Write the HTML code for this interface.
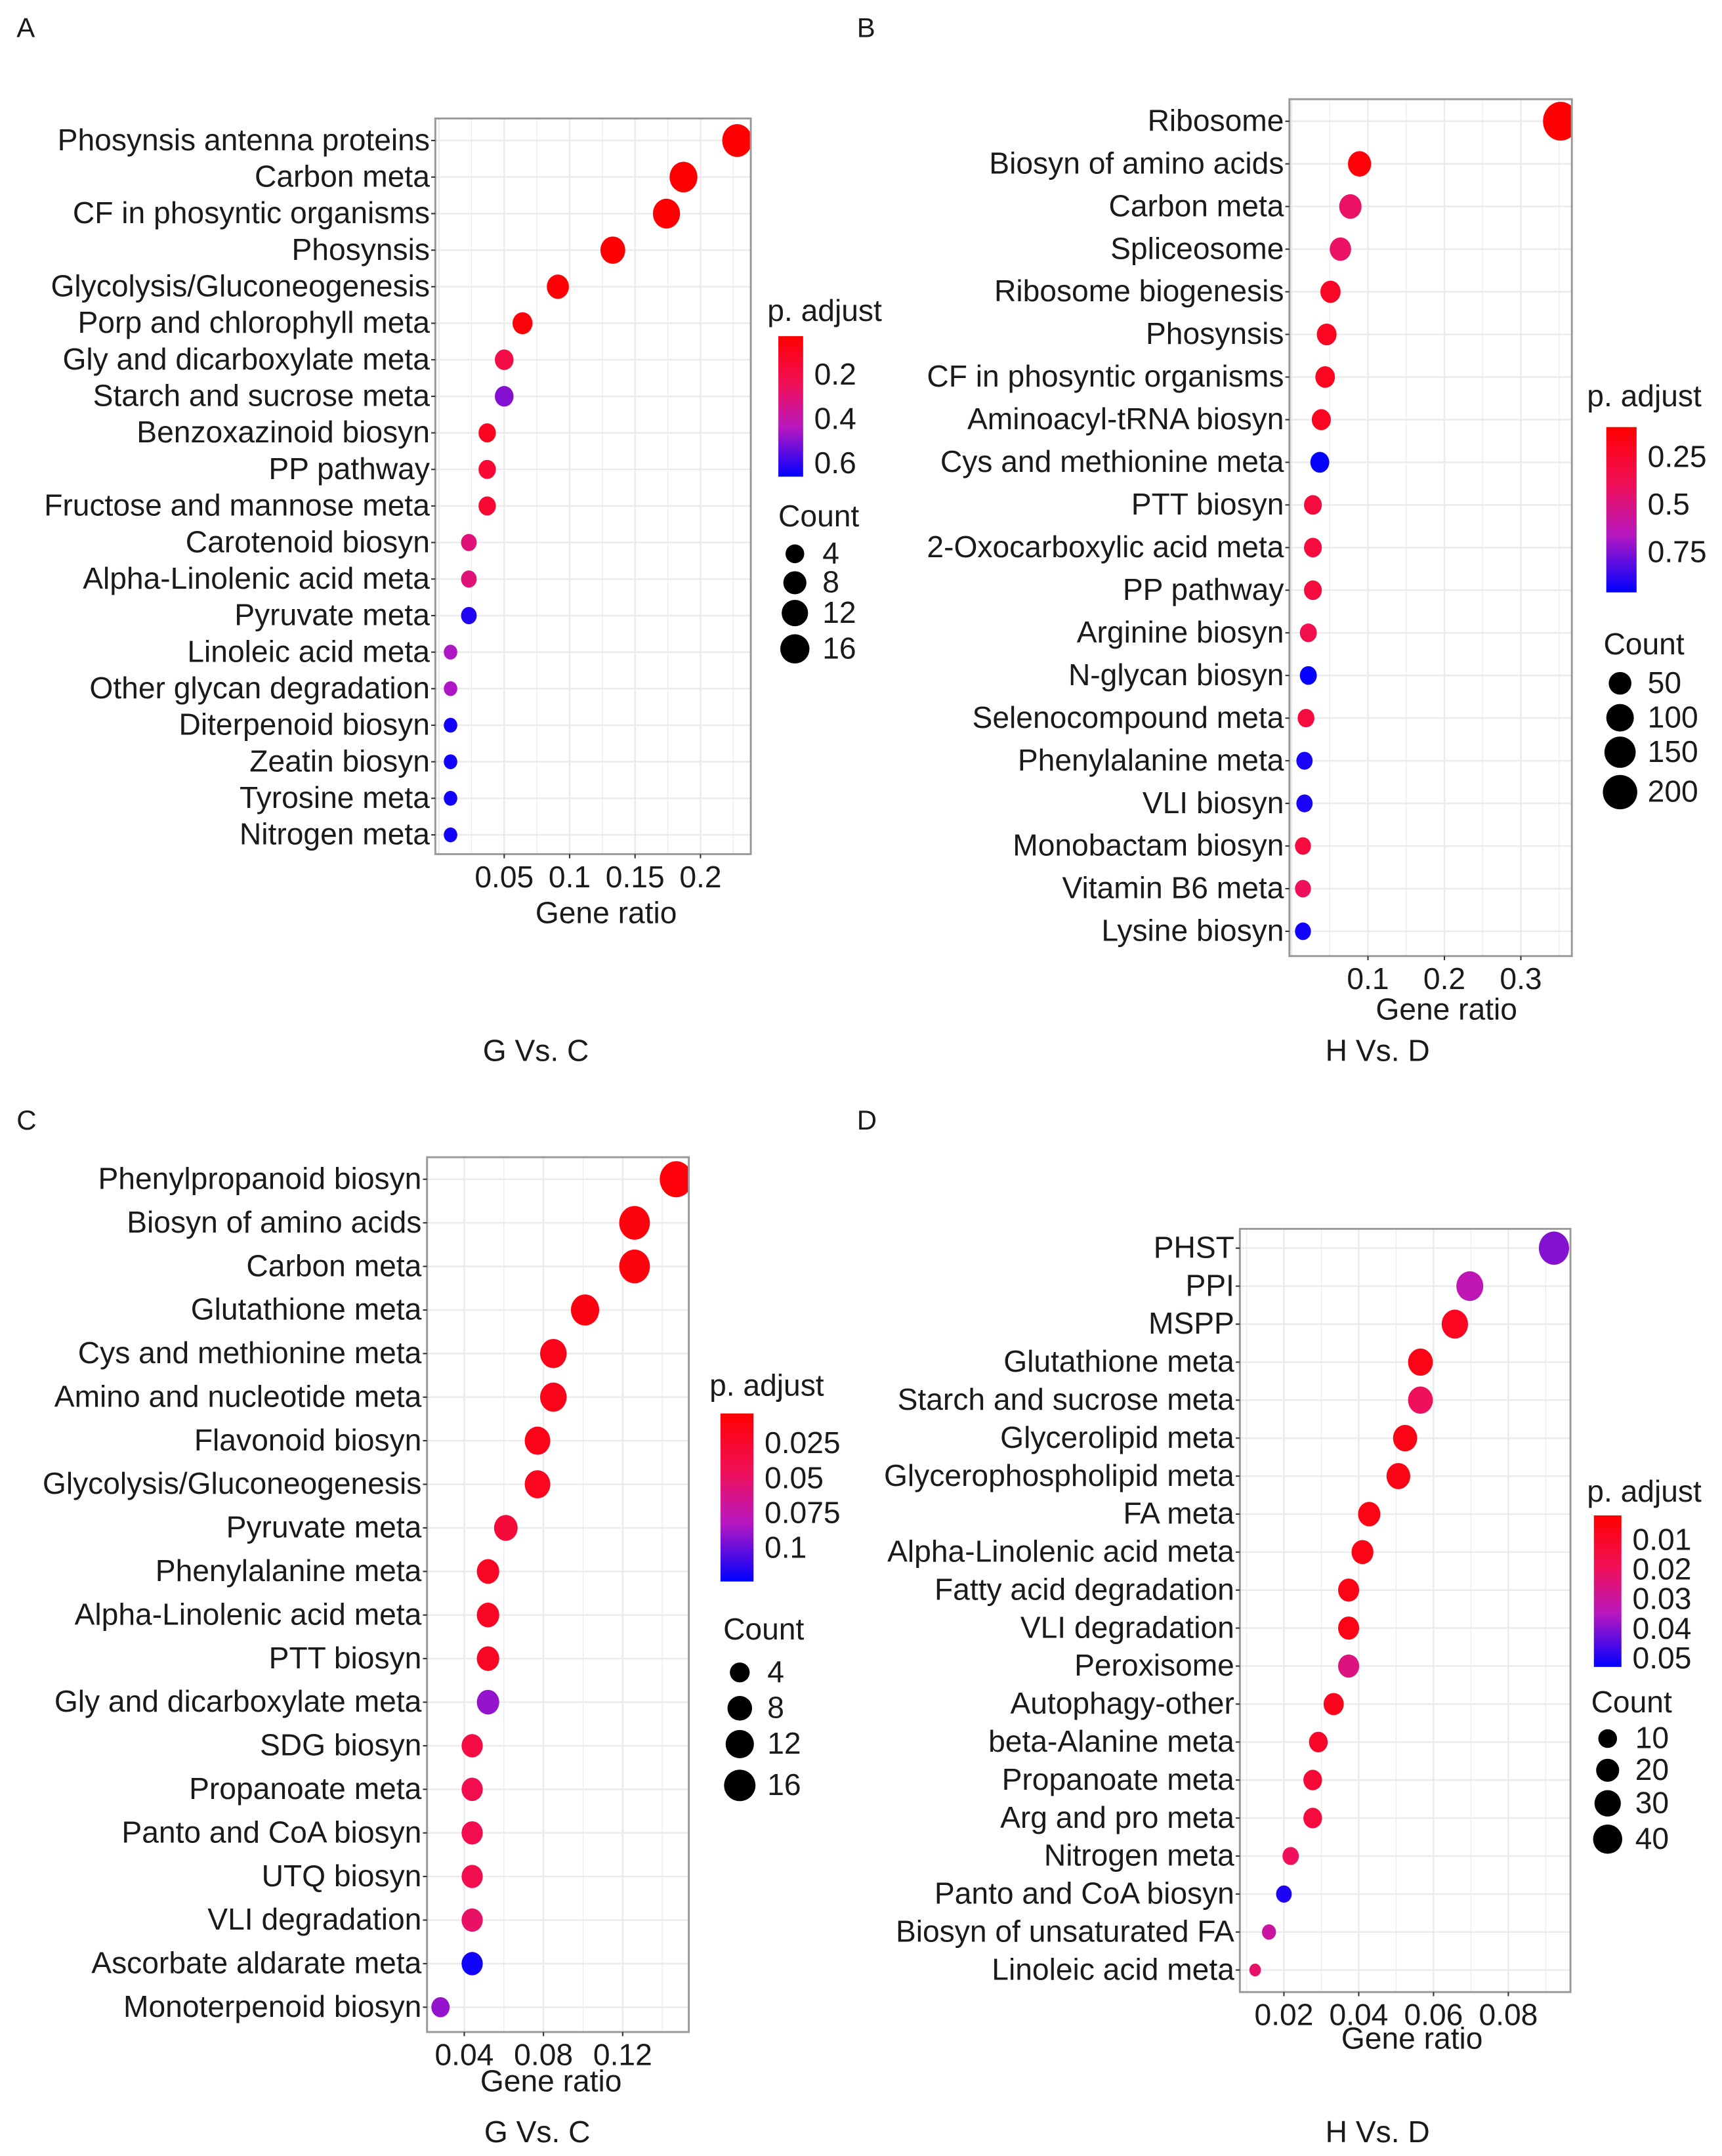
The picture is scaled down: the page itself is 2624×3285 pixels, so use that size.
<!DOCTYPE html>
<html><head><meta charset="utf-8"><style>
html,body{margin:0;padding:0;background:#fff}
svg{display:block}
text{font-family:"Liberation Sans",Arial,sans-serif}
</style></head><body>
<svg id="fig" width="2624" height="3285" viewBox="0 0 1250 1565" preserveAspectRatio="none" xmlns="http://www.w3.org/2000/svg">
<defs>
<linearGradient id="gradP" x1="0" y1="0" x2="0" y2="1">
<stop offset="0" stop-color="#ff0000"/><stop offset="0.35" stop-color="#f0105a"/><stop offset="0.65" stop-color="#b818c0"/><stop offset="1" stop-color="#0000ff"/>
</linearGradient>
</defs>
</svg>
<script>
// Panel A data
const catsA=["Phosynsis antenna proteins","Carbon meta","CF in phosyntic organisms","Phosynsis","Glycolysis/Gluconeogenesis","Porp and chlorophyll meta","Gly and dicarboxylate meta","Starch and sucrose meta","Benzoxazinoid biosyn","PP pathway","Fructose and mannose meta","Carotenoid biosyn","Alpha-Linolenic acid meta","Pyruvate meta","Linoleic acid meta","Other glycan degradation","Diterpenoid biosyn","Zeatin biosyn","Tyrosine meta","Nitrogen meta"];
const ratioA=[0.228,0.187,0.174,0.133,0.091,0.064,0.05,0.05,0.037,0.037,0.037,0.023,0.023,0.023,0.009,0.009,0.009,0.009,0.009,0.009];
const countA=[17,14,13,10,7,5,4,4,3,3,3,2,2,2,1,1,1,1,1,1];
const padjA=[0.03,0.03,0.03,0.03,0.04,0.05,0.2,0.5,0.1,0.15,0.15,0.3,0.3,0.62,0.45,0.45,0.64,0.64,0.64,0.64];
const ticksA=[0.05,0.1,0.15,0.2];
// Panel B data
const catsB=["Ribosome","Biosyn of amino acids","Carbon meta","Spliceosome","Ribosome biogenesis","Phosynsis","CF in phosyntic organisms","Aminoacyl-tRNA biosyn","Cys and methionine meta","PTT biosyn","2-Oxocarboxylic acid meta","PP pathway","Arginine biosyn","N-glycan biosyn","Selenocompound meta","Phenylalanine meta","VLI biosyn","Monobactam biosyn","Vitamin B6 meta","Lysine biosyn"];
const ratioB=[0.352,0.089,0.077,0.064,0.051,0.046,0.044,0.039,0.037,0.028,0.028,0.028,0.022,0.022,0.019,0.017,0.017,0.015,0.015,0.015];
const countB=[215,54,47,39,31,28,27,24,23,17,17,17,13,13,12,10,10,9,9,9];
const padjB=[0.1,0.12,0.42,0.42,0.22,0.2,0.2,0.2,0.95,0.3,0.3,0.3,0.35,0.95,0.3,0.92,0.92,0.3,0.4,0.93];
const ticksB=[0.1,0.2,0.3];
// Panel C data
const catsC=["Phenylpropanoid biosyn","Biosyn of amino acids","Carbon meta","Glutathione meta","Cys and methionine meta","Amino and nucleotide meta","Flavonoid biosyn","Glycolysis/Gluconeogenesis","Pyruvate meta","Phenylalanine meta","Alpha-Linolenic acid meta","PTT biosyn","Gly and dicarboxylate meta","SDG biosyn","Propanoate meta","Panto and CoA biosyn","UTQ biosyn","VLI degradation","Ascorbate aldarate meta","Monoterpenoid biosyn"];
const ratioC=[0.147,0.126,0.126,0.101,0.085,0.085,0.077,0.077,0.061,0.052,0.052,0.052,0.052,0.044,0.044,0.044,0.044,0.044,0.044,0.028];
const countC=[18,15,15,12,10,10,9,9,7,6,6,6,6,5,5,5,5,5,5,3];
const padjC=[0.008,0.01,0.01,0.012,0.015,0.015,0.015,0.018,0.03,0.02,0.02,0.02,0.09,0.035,0.04,0.04,0.04,0.05,0.12,0.09];
const ticksC=[0.04,0.08,0.12];
// Panel D data
const catsD=["PHST","PPI","MSPP","Glutathione meta","Starch and sucrose meta","Glycerolipid meta","Glycerophospholipid meta","FA meta","Alpha-Linolenic acid meta","Fatty acid degradation","VLI degradation","Peroxisome","Autophagy-other","beta-Alanine meta","Propanoate meta","Arg and pro meta","Nitrogen meta","Panto and CoA biosyn","Biosyn of unsaturated FA","Linoleic acid meta"];
const ratioD=[0.0922,0.0697,0.0657,0.0565,0.0565,0.0524,0.0506,0.0428,0.041,0.0373,0.0373,0.0373,0.0333,0.0292,0.0277,0.0277,0.0218,0.02,0.016,0.0123];
const countD=[44,32,30,25,25,23,22,18,17,15,15,15,13,10,10,10,6,5,3,1];
const padjD=[0.04,0.033,0.008,0.006,0.02,0.006,0.006,0.006,0.006,0.006,0.006,0.025,0.007,0.01,0.012,0.014,0.02,0.05,0.03,0.022];
const ticksD=[0.02,0.04,0.06,0.08];

const NS="http://www.w3.org/2000/svg";
const svg=document.getElementById('fig');
function mk(tag,attrs,parent){const e=document.createElementNS(NS,tag);for(const k in attrs)e.setAttribute(k,attrs[k]);(parent||svg).appendChild(e);return e;}
function txt(s,x,y,size,anchor,fill,parent){const t=mk('text',{x:x,y:y,'font-size':size,'text-anchor':anchor||'start',fill:fill||'#000'},parent);t.textContent=s;return t;}
function hex(c){return [parseInt(c.substr(1,2),16),parseInt(c.substr(3,2),16),parseInt(c.substr(5,2),16)];}
const stops=[[0,'#ff0000'],[0.35,'#f0105a'],[0.65,'#b818c0'],[1,'#0000ff']];
function col(t){t=Math.max(0,Math.min(1,t));for(let i=1;i<stops.length;i++){if(t<=stops[i][0]){const a=stops[i-1],b=stops[i];const f=(t-a[0])/(b[0]-a[0]);const ca=hex(a[1]),cb=hex(b[1]);return 'rgb('+ca.map((v,j)=>Math.round(v+(cb[j]-v)*f)).join(',')+')';}}return '#0000ff';}
const FS=22;

function panel(cfg){
  const g=mk('g',{});
  
  
  const xs=v=>cfg.x0+(v-cfg.t0)*cfg.k;
  const n=cfg.cats.length;
  const ys=i=>cfg.yTop+i*(cfg.yBot-cfg.yTop)/(n-1);
  const bg=mk('rect',{x:cfg.L,y:cfg.T,width:cfg.R-cfg.L,height:cfg.B-cfg.T,fill:'#fff'},g);
  
  
  const step=cfg.ticks[1]-cfg.ticks[0];
  for(let v=cfg.ticks[0]-step*3;v<cfg.ticks[cfg.ticks.length-1]+step*3;v+=step/2){
    const x=xs(v);if(x<=cfg.L||x>=cfg.R)continue;
    mk('line',{x1:x,x2:x,y1:cfg.T,y2:cfg.B,stroke:'#ebebeb','stroke-width':Math.abs((v-cfg.ticks[0])/step-Math.round((v-cfg.ticks[0])/step))<0.01?1.2:0.6},g);
  }
  cfg.cats.forEach((c,i)=>{mk('line',{x1:cfg.L,x2:cfg.R,y1:ys(i),y2:ys(i),stroke:'#ebebeb','stroke-width':1.2},g);});
  const cp=mk('clipPath',{id:'clip'+cfg.id},g);mk('rect',{x:cfg.L,y:cfg.T,width:cfg.R-cfg.L,height:cfg.B-cfg.T},cp);
  const pts=mk('g',{'clip-path':'url(#clip'+cfg.id+')'},g);
  cfg.cats.forEach((c,i)=>{
    const r=cfg.rad(cfg.count[i]);
    const e=mk('ellipse',{cx:xs(cfg.ratio[i]),cy:ys(i),rx:r,ry:r*1.1,fill:col((cfg.padj[i]-cfg.pmin)/(cfg.pmax-cfg.pmin))},pts);
    
    
  });
  mk('rect',{x:cfg.L,y:cfg.T,width:cfg.R-cfg.L,height:cfg.B-cfg.T,fill:'none',stroke:'#999','stroke-width':1.4},g);
  cfg.cats.forEach((c,i)=>{
    mk('line',{x1:cfg.L-3,x2:cfg.L,y1:ys(i),y2:ys(i),stroke:'#333','stroke-width':1},g);
    const t=txt(c,cfg.L-4,ys(i)+7,FS,'end','#1a1a1a',g);
    
    
  });
  cfg.ticks.forEach(v=>{
    mk('line',{x1:xs(v),x2:xs(v),y1:cfg.B,y2:cfg.B+3,stroke:'#333','stroke-width':1},g);
    const t=txt(String(v),xs(v),cfg.B+24,FS,'middle','#1a1a1a',g);
    
    
  });
  const xt=txt('Gene ratio',cfg.xtX,cfg.xtY,FS,'middle','#1a1a1a',g);
  
  
  const lt=txt('p. adjust',cfg.lg.px,cfg.lg.py,FS,'start','#1a1a1a',g);
  
  
  const bar=mk('rect',{x:cfg.lg.bx,y:cfg.lg.by0,width:cfg.lg.bw,height:cfg.lg.by1-cfg.lg.by0,fill:'url(#gradP)'},g);
  
  
  cfg.lg.pt.forEach(v=>{
    const y=cfg.lg.by0+(v-cfg.pmin)/(cfg.pmax-cfg.pmin)*(cfg.lg.by1-cfg.lg.by0);
    txt(String(v),cfg.lg.bx+cfg.lg.bw+8,y+7,FS,'start','#1a1a1a',g);
  });
  const ct=txt('Count',cfg.lg.cx-12,cfg.lg.cy,FS,'start','#1a1a1a',g);
  
  
  cfg.lg.cv.forEach((v,j)=>{
    const y=cfg.lg.cys[j];
    const c=mk('circle',{cx:cfg.lg.cx,cy:y,r:cfg.rad(v),fill:'#000'},g);
    
    
    txt(String(v),cfg.lg.cx+20,y+7,FS,'start','#1a1a1a',g);
  });
  const pl=txt(cfg.id,cfg.labX,cfg.labY,20,'start','#1a1a1a',g);
  
  
  const sub=txt(cfg.sub,cfg.subX,cfg.subY,FS,'middle','#1a1a1a',g);
  
  
}

panel({id:'A',cats:catsA,ratio:ratioA,count:countA,padj:padjA,ticks:ticksA,L:316,R:545,T:86,B:620,yTop:102,yBot:606,x0:366,t0:0.05,k:950,
 rad:c=>3+1.9*Math.sqrt(c),pmin:0.024,pmax:0.66,xtX:440,xtY:670,labX:12,labY:27,sub:'G Vs. C',subX:389,subY:770,
 lg:{px:557,py:233,bx:565,bw:18,by0:244,by1:346,pt:[0.2,0.4,0.6],cx:577,cy:382,cv:[4,8,12,16],cys:[402,423,445,471]}});
panel({id:'B',cats:catsB,ratio:ratioB,count:countB,padj:padjB,ticks:ticksB,L:936,R:1141,T:72,B:694,yTop:88,yBot:676,x0:993,t0:0.1,k:555,
 rad:c=>4+0.6*Math.sqrt(c),pmin:0.09,pmax:0.96,xtX:1050,xtY:740,labX:622,labY:27,sub:'H Vs. D',subX:1000,subY:770,
 lg:{px:1152,py:295,bx:1166,bw:22,by0:310,by1:430,pt:[0.25,0.5,0.75],cx:1176,cy:475,cv:[50,100,150,200],cys:[496,521,546,575]}});
panel({id:'C',cats:catsC,ratio:ratioC,count:countC,padj:padjC,ticks:ticksC,L:310,R:500,T:840,B:1475,yTop:856,yBot:1457,x0:337,t0:0.04,k:1437.5,
 rad:c=>3+2.1*Math.sqrt(c),pmin:0.0034,pmax:0.124,xtX:400,xtY:1518,labX:12,labY:820,sub:'G Vs. C',subX:390,subY:1555,
 lg:{px:515,py:1013,bx:523,bw:24,by0:1026,by1:1148,pt:[0.025,0.05,0.075,0.1],cx:537,cy:1190,cv:[4,8,12,16],cys:[1214,1240,1266,1296]}});
panel({id:'D',cats:catsD,ratio:ratioD,count:countD,padj:padjD,ticks:ticksD,L:900,R:1140,T:892,B:1446,yTop:906,yBot:1430,x0:932,t0:0.02,k:2715,
 rad:c=>3+1.2*Math.sqrt(c),pmin:0.0016,pmax:0.0528,xtX:1025,xtY:1487,labX:622,labY:820,sub:'H Vs. D',subX:1000,subY:1555,
 lg:{px:1152,py:1090,bx:1157,bw:20,by0:1100,by1:1210,pt:[0.01,0.02,0.03,0.04,0.05],cx:1167,cy:1243,cv:[10,20,30,40],cys:[1262,1285,1309,1335]}});
</script>
</body></html>
